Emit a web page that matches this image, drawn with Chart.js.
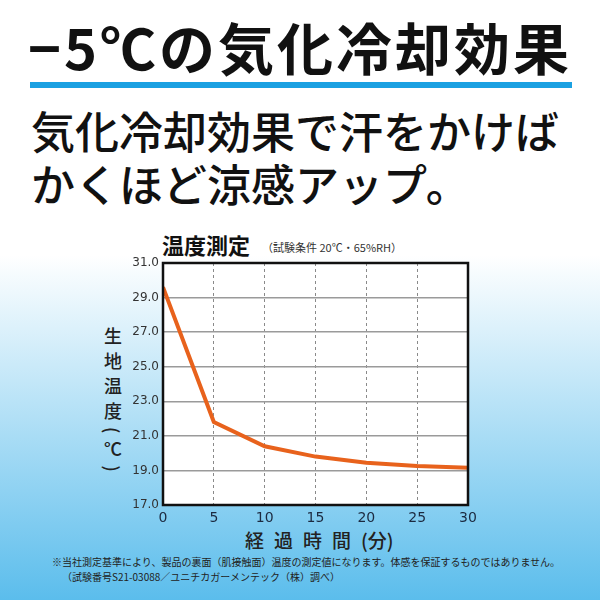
<!DOCTYPE html>
<html lang="ja">
<head>
<meta charset="utf-8">
<script src="https://cdn.jsdelivr.net/npm/chart.js@4.4.1/dist/chart.umd.min.js"></script>
<style>
  body {
    margin: 0;
    width: 600px;
    height: 600px;
    overflow: hidden;
    position: relative;
    font-family: "Noto Sans CJK JP", sans-serif;
    color: #111;
    background: linear-gradient(to bottom, #ffffff 0px, #ffffff 255px, #5bbdec 600px);
  }
  .txt { position: absolute; white-space: nowrap; line-height: 1; }
  #headline { left: 28px; top: 18px; font-size: 56px; font-weight: 700; letter-spacing: 3px; }
  #bar { position: absolute; left: 30px; top: 82px; width: 542px; height: 6px; background: #1ba1e2; }
  #line2 { left: 31px; top: 108px; font-size: 44px; font-weight: 500; }
  #line3 { left: 31px; top: 161px; font-size: 44px; font-weight: 500; }
  #chartTitle { left: 162px; top: 233px; font-size: 22px; font-weight: 700; }
  #chartSub { left: 262px; top: 242px; font-size: 11px; color: #333; }
  #yTitle { left: 104px; top: 327px; font-size: 18px; font-weight: 500; writing-mode: vertical-rl; letter-spacing: 7px; color: #222; }
  #xTitle { left: 245px; top: 530px; font-size: 19px; font-weight: 500; color: #222; }
  #xTitle .sp { letter-spacing: 10px; }
  #note1 { left: 52px; top: 557px; font-size: 10px; color: #222; }
  #note2 { left: 62px; top: 572px; font-size: 10px; color: #222; }
  #chart { position: absolute; left: 0; top: 0; }
</style>
</head>
<body>
<div class="txt" id="headline">−5℃の気化冷却効果</div>
<div id="bar"></div>
<div class="txt" id="line2">気化冷却効果で汗をかけば</div>
<div class="txt" id="line3">かくほど涼感アップ。</div>
<div class="txt" id="chartTitle">温度測定</div>
<div class="txt" id="chartSub">（試験条件 20℃・65%RH）</div>
<div class="txt" id="yTitle">生地温度(℃)</div>
<div class="txt" id="xTitle"><span class="sp">経過時間</span>(分)</div>
<div class="txt" id="note1">※当社測定基準により、製品の裏面（肌接触面）温度の測定値になります。体感を保証するものではありません。</div>
<div class="txt" id="note2">（試験番号S21-03088／ユニチカガーメンテック（株）調べ）</div>
<canvas id="chart" width="600" height="600"></canvas>
<script>
// elapsed minutes and fabric temperature (°C)
const minutes = [0, 5, 10, 15, 20, 25, 30];
const fabricTemp = [29.6, 21.8, 20.4, 19.8, 19.45, 19.25, 19.15];

// axis ranges
const yMin = 17, yMax = 31, yStep = 2;
const xMin = 0, xMax = 30, xStep = 5;

// white plot area + black frame
const framePlugin = {
  id: 'frame',
  beforeDraw(chart) {
    const { ctx, chartArea: a } = chart;
    ctx.save();
    ctx.fillStyle = '#fff';
    ctx.fillRect(a.left, a.top, a.width, a.height);
    ctx.restore();
  },
  afterDraw(chart) {
    const { ctx, chartArea: a } = chart;
    ctx.save();
    ctx.strokeStyle = '#111';
    ctx.lineWidth = 2.5;
    ctx.strokeRect(a.left, a.top, a.width, a.height);
    ctx.restore();
  }
};

const ctx = document.getElementById('chart').getContext('2d');

new Chart(ctx, {
  type: 'line',
  data: {
    datasets: [{
      data: minutes.map((m, i) => ({ x: m, y: fabricTemp[i] })),
      borderColor: '#e8621c',
      borderWidth: 4,
      pointRadius: 0,
      tension: 0,
      fill: false
    }]
  },
  options: {
    responsive: false,
    animation: false,
    layout: { padding: { left: 113, right: 132, top: 263, bottom: 65 } },
    plugins: {
      legend: { display: false },
      tooltip: { enabled: false }
    },
    scales: {
      x: {
        type: 'linear',
        min: xMin,
        max: xMax,
        afterFit(scale) { scale.height = 30; },
        grid: {
          color: (c) => (c.tick.value === xMin || c.tick.value === xMax) ? 'rgba(0,0,0,0)' : '#8a8a8a',
          lineWidth: 1,
          drawTicks: false
        },
        border: { display: false, dash: [3, 3] },
        ticks: {
          stepSize: xStep,
          padding: 5,
          color: '#1c2a40',
          font: { family: 'DejaVu Sans', size: 14 }
        }
      },
      y: {
        min: yMin,
        max: yMax,
        afterFit(scale) { scale.width = 50; },
        grid: {
          color: '#9a9a9a',
          lineWidth: 1.5,
          drawTicks: false
        },
        border: { display: false },
        ticks: {
          stepSize: yStep,
          padding: 4,
          color: '#333',
          font: { family: 'DejaVu Sans', size: 12 },
          callback: (v) => v.toFixed(1)
        }
      }
    }
  },
  plugins: [framePlugin]
});
</script>
</body>
</html>
